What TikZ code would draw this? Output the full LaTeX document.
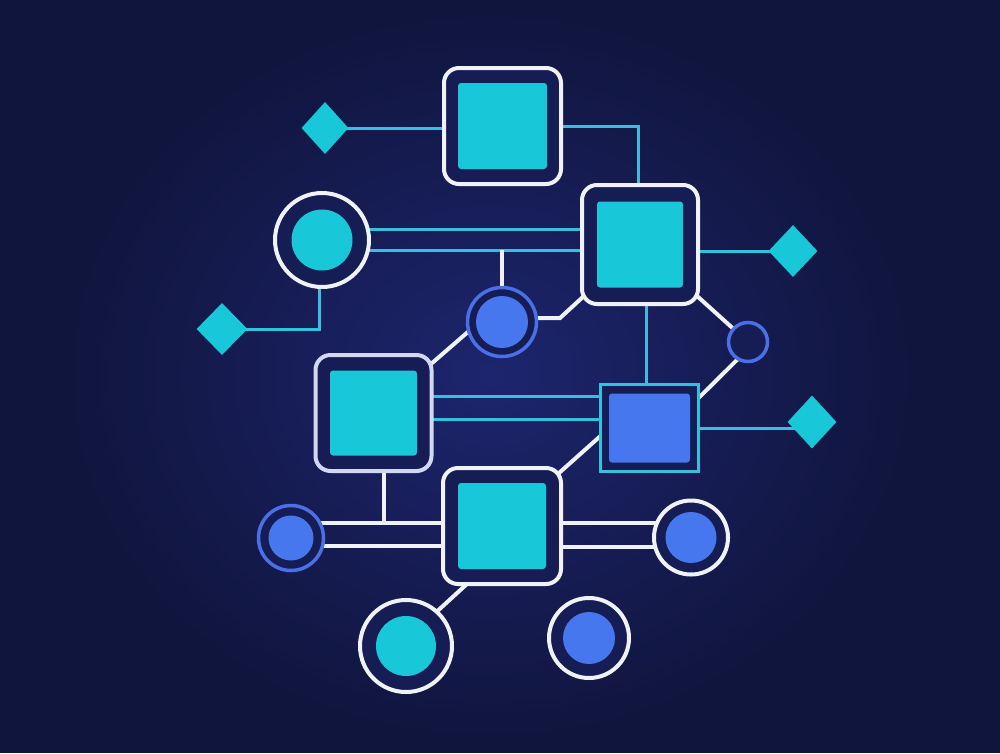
\documentclass[tikz,border=0pt]{standalone}
\usetikzlibrary{shapes.geometric,calc}
\definecolor{bgedge}{HTML}{10153D}
\definecolor{bgglow}{HTML}{1D256E}
\definecolor{boxbg}{HTML}{161C54}
\definecolor{cyanfill}{HTML}{18C8D8}
\definecolor{bluefill}{HTML}{4677EE}
\definecolor{wline}{HTML}{F0F2FA}
\definecolor{lavline}{HTML}{D2D8F4}
\definecolor{cline}{HTML}{35C0DF}
\definecolor{bline}{HTML}{4A6FE6}
\pgfdeclarelayer{bglayer}
\pgfdeclarelayer{conn}
\pgfsetlayers{bglayer,conn,main}
\tikzset{
  outbox/.style={rectangle, draw=wline, line width=4pt, rounded corners=15pt, fill=boxbg, inner sep=0pt},
  incyan/.style={rectangle, fill=cyanfill, rounded corners=3pt, inner sep=0pt},
  inblue/.style={rectangle, fill=bluefill, rounded corners=3pt, inner sep=0pt},
  wring/.style={circle, draw=wline, line width=4pt, fill=boxbg, inner sep=0pt},
  bring/.style={circle, draw=bline, line width=3.5pt, fill=boxbg, inner sep=0pt},
  cdisc/.style={circle, fill=cyanfill, inner sep=0pt},
  bdisc/.style={circle, fill=bluefill, inner sep=0pt},
  diam/.style={diamond, fill=cyanfill, inner sep=0pt, minimum width=49pt, minimum height=52pt},
  cyanlink/.style={draw=cline, line width=3pt},
  whitelink/.style={draw=wline, line width=4pt},
}
\begin{document}
\begin{tikzpicture}[x=1pt,y=-1pt]
\useasboundingbox (0,0) rectangle (1000,753);
\begin{pgfonlayer}{bglayer}
  \fill[bgedge] (0,0) rectangle (1000,753);
  \begin{scope}
    \clip (0,0) rectangle (1000,753);
    \shade[inner color=bgglow, outer color=bgedge] (490,375) ellipse [x radius=430, y radius=370];
  \end{scope}
\end{pgfonlayer}

% square nodes
\node[outbox, minimum width=117pt, minimum height=116pt] (A) at (502.5,126) {};
\node[incyan, minimum width=89pt, minimum height=86pt] (Ai) at (A) {};
\node[outbox, minimum width=116pt, minimum height=119pt] (B) at (640,244.5) {};
\node[incyan, minimum width=86pt, minimum height=86pt] (Bi) at (B) {};
\node[outbox, draw=lavline, minimum width=116pt, minimum height=116pt] (E) at (373.5,413) {};
\node[incyan, minimum width=87pt, minimum height=85pt] (Ei) at (E) {};
\node[outbox, minimum width=118pt, minimum height=116pt] (G) at (502,526) {};
\node[incyan, minimum width=88pt, minimum height=86pt] (Gi) at (G) {};
\node[rectangle, draw=cline, line width=3pt, fill=boxbg, inner sep=0pt, minimum width=98pt, minimum height=87pt] (F) at (649.5,428) {};
\node[inblue, minimum width=81pt, minimum height=69pt] (Fi) at (F) {};

% circles
\node[wring, minimum size=94pt] (C1) at (322,240) {};
\node[cdisc, minimum size=61pt] (C1i) at (C1) {};
\node[bring, minimum size=69pt] (C2) at (502,322) {};
\node[bdisc, minimum size=52pt] (C2i) at (C2) {};
\node[bring, minimum size=39pt] (C3) at (748,342) {};
\node[bring, minimum size=65pt] (C4) at (291,538) {};
\node[bdisc, minimum size=45pt] (C4i) at (C4) {};
\node[wring, minimum size=74pt] (C5) at (691,537.5) {};
\node[bdisc, minimum size=51pt] (C5i) at (C5) {};
\node[wring, minimum size=92pt] (C6) at (406,646) {};
\node[cdisc, minimum size=60pt] (C6i) at (C6) {};
\node[wring, minimum size=80pt] (C7) at (589,638) {};
\node[bdisc, minimum size=52pt] (C7i) at (C7) {};

% diamonds
\node[diam, minimum width=47pt] (D1) at (325,128) {};
\node[diam, minimum width=51pt] (D2) at (222,329) {};
\node[diam] (D3) at (793,251) {};
\node[diam, minimum height=53pt] (D4) at (812,422) {};

\begin{pgfonlayer}{conn}
  % cyan links
  \draw[cyanlink] (D1.center) -- (D1.center -| A.center);
  \draw[cyanlink] (A.center) -| ([xshift=-2pt]B.center);
  \draw[cyanlink] ([yshift=11pt]C1.center) -- ([yshift=11pt]C1.center -| B.center);
  \draw[cyanlink] ([yshift=-10pt]C1.center) -- ([yshift=-10pt]C1.center -| B.center);
  \draw[cyanlink] ([xshift=-3pt]C1.center) |- (D2.center);
  \draw[cyanlink] (D3.center -| B.center) -- (D3.center);
  \draw[cyanlink] ([xshift=6pt]B.center) -- ([xshift=6pt]B.center |- F.center);
  \draw[cyanlink] ([yshift=17pt]E.center) -- ([yshift=17pt]E.center -| F.center);
  \draw[cyanlink] ([yshift=-6pt]E.center) -- ([yshift=-6pt]E.center -| F.center);
  \draw[cyanlink] (F.center) -- (F.center -| D4.center);
  % white links
  \draw[whitelink] (C2.center) -- ([yshift=72pt]C2.center);
  \coordinate (k1) at (560,318);
  \draw[whitelink] ([yshift=4pt]C2.center) -- (k1) -- (B.center);
  \draw[whitelink] ([shift={(-18pt,4pt)}]C2.center) -- ([shift={(-6pt,-14pt)}]E.north east);
  \draw[whitelink] (B.center) -- (C3.center);
  \draw[whitelink] ([yshift=-7pt]C3.center) -- ([shift={(40pt,21pt)}]F.center);
  \draw[whitelink] ([shift={(-30pt,9pt)}]F.center) -- ([shift={(43pt,40.5pt)}]G.center);
  \coordinate (hl) at ([yshift=15pt]C4.center);
  \draw[whitelink] ([xshift=10pt]E.center) -- ([xshift=10pt]E.center |- hl);
  \draw[whitelink] (hl) -- (hl -| G.center);
  \draw[whitelink] ([yshift=-8pt]C4.center) -- ([yshift=-8pt]C4.center -| G.center);
  \draw[whitelink] ([yshift=14.5pt]C5.center) -- ([yshift=14.5pt]C5.center -| G.center);
  \draw[whitelink] ([yshift=-9.5pt]C5.center) -- ([yshift=-9.5pt]C5.center -| G.center);
  \draw[whitelink] ([shift={(-22pt,-46pt)}]G.center) -- ([shift={(14pt,19pt)}]C6.center);
\end{pgfonlayer}
\end{tikzpicture}
\end{document}
